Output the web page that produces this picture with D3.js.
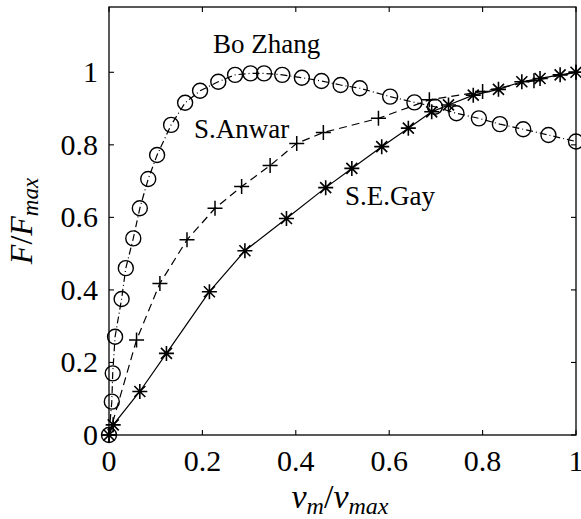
<!DOCTYPE html>
<html>
<head>
<meta charset="utf-8">
<script src="https://cdn.jsdelivr.net/npm/d3@7"></script>
<style>
  body { margin: 0; background: #fff; }
</style>
</head>
<body>
<div id="chart"></div>
<script>
// Figure size
const width = 581;
const height = 519;

// Tick values
const xTicks = [0, 0.2, 0.4, 0.6, 0.8, 1];
const yTicks = [0, 0.2, 0.4, 0.6, 0.8, 1];

// Bo Zhang (circles, dash-dot)
const zhangX = [0, 0.006, 0.008, 0.013, 0.027, 0.036, 0.052, 0.066, 0.084, 0.103, 0.133, 0.163, 0.195, 0.234, 0.27, 0.303,
    0.332, 0.371, 0.413, 0.455, 0.496, 0.537, 0.602, 0.654, 0.698, 0.744, 0.792, 0.837, 0.887, 0.941, 1.0];
const zhangY = [0, 0.092, 0.17, 0.271, 0.375, 0.46, 0.542, 0.625, 0.706, 0.772, 0.855, 0.916, 0.949, 0.974, 0.993, 0.997,
    0.997, 0.993, 0.985, 0.976, 0.965, 0.956, 0.933, 0.917, 0.905, 0.887, 0.873, 0.857, 0.843, 0.827, 0.809];

// S.Anwar (plus, dashed)
const anwarX = [0, 0.059, 0.109, 0.167, 0.227, 0.284, 0.345, 0.402, 0.459, 0.577, 0.686, 0.80, 0.91, 1.0];
const anwarY = [0, 0.262, 0.418, 0.538, 0.625, 0.685, 0.743, 0.804, 0.834, 0.873, 0.924, 0.947, 0.977, 1.0];

// S.E.Gay (asterisk, solid)
const gayX = [0, 0.009, 0.066, 0.123, 0.215, 0.291, 0.38, 0.464, 0.52, 0.584, 0.641, 0.691, 0.727, 0.78, 0.834, 0.884, 0.923, 0.966, 1.0];
const gayY = [0, 0.028, 0.12, 0.225, 0.395, 0.508, 0.597, 0.682, 0.735, 0.795, 0.846, 0.891, 0.91, 0.937, 0.953, 0.974, 0.983, 0.993, 1.0];

const margin = {left: 109, right: 5, top: 7, bottom: 84};
const serif = "\"Liberation Serif\", \"Times New Roman\", Tinos, serif";

const x = d3.scaleLinear().domain([0, 1]).range([margin.left, width - margin.right]);
const y = d3.scaleLinear().domain([0, 1.18]).range([height - margin.bottom, margin.top]);

const svg = d3.select("#chart").append("svg")
    .attr("width", width)
    .attr("height", height);

const zip = (xs, ys) => xs.map((v, i) => [v, ys[i]]);

const line = d3.line().x(d => x(d[0])).y(d => y(d[1]));

// Lines
svg.append("path")
    .datum(zip(zhangX, zhangY))
    .attr("d", line)
    .attr("fill", "none")
    .attr("stroke", "#000")
    .attr("stroke-width", 1.2)
    .attr("stroke-dasharray", "7,3,1,3");

svg.append("path")
    .datum(zip(anwarX, anwarY))
    .attr("d", line)
    .attr("fill", "none")
    .attr("stroke", "#000")
    .attr("stroke-width", 1.2)
    .attr("stroke-dasharray", "8,5");

svg.append("path")
    .datum(zip(gayX, gayY))
    .attr("d", line)
    .attr("fill", "none")
    .attr("stroke", "#000")
    .attr("stroke-width", 1.2);

// Markers
svg.append("g")
    .selectAll("circle")
    .data(zip(zhangX, zhangY))
    .join("circle")
    .attr("cx", d => x(d[0]))
    .attr("cy", d => y(d[1]))
    .attr("r", 7.5)
    .attr("fill", "none")
    .attr("stroke", "#000")
    .attr("stroke-width", 1.4);

const s = 7.5;
svg.append("g")
    .selectAll("path")
    .data(zip(anwarX, anwarY))
    .join("path")
    .attr("d", d => {
        const cx = x(d[0]), cy = y(d[1]);
        return `M${cx - s},${cy}H${cx + s}M${cx},${cy - s}V${cy + s}`;
    })
    .attr("stroke", "#000")
    .attr("stroke-width", 1.5);

const a = 5.5;
svg.append("g")
    .selectAll("path")
    .data(zip(gayX, gayY))
    .join("path")
    .attr("d", d => {
        const cx = x(d[0]), cy = y(d[1]);
        return `M${cx - s},${cy}H${cx + s}M${cx},${cy - s}V${cy + s}` +
            `M${cx - a},${cy - a}L${cx + a},${cy + a}M${cx - a},${cy + a}L${cx + a},${cy - a}`;
    })
    .attr("stroke", "#000")
    .attr("stroke-width", 1.6);

// Frame with inward ticks on all sides
const x0 = x(0), x1 = x(1), y0 = y(0), y1 = y(1.18);
const tl = 5;
svg.append("rect")
    .attr("x", x0).attr("y", y1)
    .attr("width", x1 - x0).attr("height", y0 - y1)
    .attr("fill", "none")
    .attr("stroke", "#000")
    .attr("stroke-width", 1.3);

const ticks = svg.append("g").attr("stroke", "#000").attr("stroke-width", 1.1);
xTicks.forEach(t => {
    ticks.append("line").attr("x1", x(t)).attr("x2", x(t)).attr("y1", y0).attr("y2", y0 - tl);
    ticks.append("line").attr("x1", x(t)).attr("x2", x(t)).attr("y1", y1).attr("y2", y1 + tl);
});
yTicks.forEach(t => {
    ticks.append("line").attr("x1", x0).attr("x2", x0 + tl).attr("y1", y(t)).attr("y2", y(t));
    ticks.append("line").attr("x1", x1).attr("x2", x1 - tl).attr("y1", y(t)).attr("y2", y(t));
});

// Tick labels
svg.append("g")
    .selectAll("text")
    .data(xTicks)
    .join("text")
    .style("font-family", serif)
    .attr("x", d => x(d))
    .attr("y", 471)
    .attr("text-anchor", "middle")
    .attr("font-size", 30)
    .text(d => d3.format("~g")(d));

svg.append("g")
    .selectAll("text")
    .data(yTicks)
    .join("text")
    .style("font-family", serif)
    .attr("x", 98)
    .attr("y", d => y(d) + 10)
    .attr("text-anchor", "end")
    .attr("font-size", 30)
    .text(d => d3.format("~g")(d));

// Axis labels
const xl = svg.append("text")
    .style("font-family", serif)
    .attr("x", 340)
    .attr("y", 508)
    .attr("text-anchor", "middle")
    .attr("font-size", 34)
    .attr("font-style", "italic");
xl.append("tspan").text("v");
xl.append("tspan").attr("font-size", 24).attr("dy", 6).text("m");
xl.append("tspan").attr("dy", -6).attr("font-style", "normal").text("/");
xl.append("tspan").text("v");
xl.append("tspan").attr("font-size", 24).attr("dy", 6).text("max");

const yl = svg.append("text")
    .style("font-family", serif)
    .attr("transform", `translate(32,${(y0 + y1) / 2}) rotate(-90)`)
    .attr("text-anchor", "middle")
    .attr("font-size", 32)
    .attr("font-style", "italic");
yl.append("tspan").text("F");
yl.append("tspan").attr("font-style", "normal").text("/");
yl.append("tspan").text("F");
yl.append("tspan").attr("font-size", 23).attr("dy", 6).text("max");

// Series annotations
const notes = [
    {label: "Bo Zhang", px: 213, py: 53},
    {label: "S.Anwar", px: 194, py: 138},
    {label: "S.E.Gay", px: 345, py: 205}
];
svg.append("g")
    .selectAll("text")
    .data(notes)
    .join("text")
    .style("font-family", serif)
    .attr("x", d => d.px)
    .attr("y", d => d.py)
    .attr("font-size", 27)
    .text(d => d.label);
</script>
</body>
</html>
